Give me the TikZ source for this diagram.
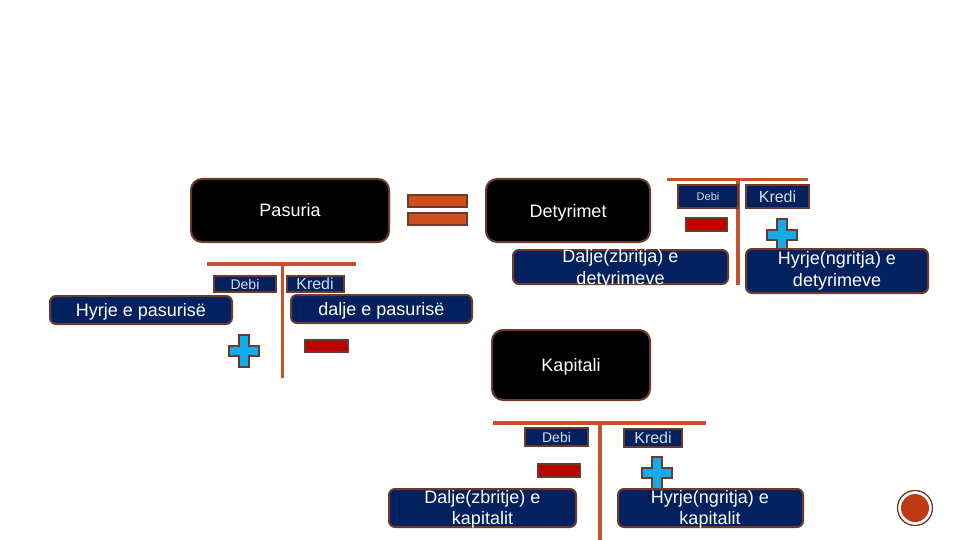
\documentclass[tikz,border=0pt]{standalone}
\usepackage{fontspec}
\setmainfont{Liberation Sans}
\definecolor{rim}{HTML}{6E3A2A}
\definecolor{navy}{HTML}{03215F}
\definecolor{rust}{HTML}{C4522A}
\definecolor{eqfill}{HTML}{CE4E1E}
\definecolor{sky}{HTML}{12ABEB}
\definecolor{crim}{HTML}{BE0000}
\definecolor{thinwhite}{HTML}{D5DCEC}
\definecolor{badge}{HTML}{BE3A14}
\tikzset{
 x=1pt,y=-1pt,
 boxed/.style={draw=rim,line width=2pt,text=white,inner sep=0pt,align=center,font=\fontsize{18}{21.5}\selectfont},
 bigblack/.style={fill=black,rounded corners=11pt},
 bluebox/.style={fill=navy,rounded corners=6pt},
 labelbox/.style={draw=rim,line width=1.8pt,fill=navy,text=thinwhite,inner sep=0pt,font=\fontsize{14}{16}\selectfont},
 bigkredi/.style={labelbox,font=\fontsize{16}{16}\selectfont},
 freetext/.style={text=white,align=center,inner sep=0pt,font=\fontsize{18}{21.5}\selectfont},
 tbar/.style={draw=rust,line width=3.5pt},
 eqbar/.style={draw=rim,line width=1.5pt,fill=eqfill},
 minusbar/.style={draw=rim,line width=1.5pt,fill=crim},
 plusmark/.style={draw=rim,line width=2pt,fill=sky}
}
\newcommand{\plusat}[2]{\draw[plusmark] (#1-5,#2-16) -- (#1+5,#2-16) -- (#1+5,#2-5) -- (#1+15,#2-5) -- (#1+15,#2+5) -- (#1+5,#2+5) -- (#1+5,#2+16) -- (#1-5,#2+16) -- (#1-5,#2+5) -- (#1-15,#2+5) -- (#1-15,#2-5) -- (#1-5,#2-5) -- cycle;}
\begin{document}
\begin{tikzpicture}
\useasboundingbox (0,0) rectangle (960,540);
\fill[white] (0,0) rectangle (960,540);
% black headline boxes
\node[boxed,bigblack,minimum width=198pt,minimum height=63pt] (pasuria) at (290,210.5) {Pasuria};
\node[boxed,bigblack,minimum width=164pt,minimum height=63pt] (detyrimet) at (568,210.5) {\rule{0pt}{17pt}Detyrimet};
\node[boxed,bigblack,minimum width=158pt,minimum height=70pt] (kapitali) at (571,365) {\rule{0pt}{17pt}Kapitali};
% equals
\draw[eqbar] (408,195) rectangle (467,207);
\draw[eqbar] (408,213) rectangle (467,225);
% T accounts
\draw[tbar] (207,264) -- (356,264);
\draw[tbar] (282.5,264) -- (282.5,378);
\draw[tbar] (667,179.5) -- (808,179.5);
\draw[tbar] (738,179.5) -- (738,285);
\draw[tbar] (493,423) -- (706,423);
\draw[tbar] (600,423) -- (600,540);
% plus and minus marks
\plusat{244}{351}
\plusat{782}{235}
\plusat{657}{473}
\draw[minusbar] (305,340) rectangle (348,352);
\draw[minusbar] (686,218) rectangle (727,231);
\draw[minusbar] (538,464) rectangle (580,477);
% Debi / Kredi labels
\node[labelbox,minimum width=62pt,minimum height=16pt] (debiA) at (245,284) {Debi};
\node[bigkredi,minimum width=57pt,minimum height=16pt] (krediA) at (315.5,284) {\hspace*{-1pt}Kredi};
\node[labelbox,minimum width=60pt,minimum height=23pt,font=\fontsize{11}{12}\selectfont] (debiB) at (708,196.5) {Debi};
\node[bigkredi,minimum width=63pt,minimum height=23pt] (krediB) at (777.5,196.5) {Kredi};
\node[labelbox,minimum width=63pt,minimum height=18pt] (debiC) at (556.5,437) {Debi};
\node[bigkredi,minimum width=58pt,minimum height=18pt] (krediC) at (653,438) {Kredi};
% blue text boxes
\node[boxed,bluebox,minimum width=182pt,minimum height=28pt] (hyrjeP) at (141,310) {\rule{0pt}{16pt}Hyrje e pasurisë};
\node[boxed,bluebox,minimum width=181pt,minimum height=28pt] (daljeP) at (381.5,309) {\rule{0pt}{16pt}dalje e pasurisë};
\path[boxed,bluebox] (513,250) rectangle (728,284);
\node[boxed,bluebox,minimum width=182pt,minimum height=44pt] (hyrjeD) at (837,271) {Hyrje(ngritja) e\\detyrimeve};
\path[boxed,bluebox] (389,489) rectangle (576,527);
\path[boxed,bluebox] (618,489) rectangle (803,527);
\node[freetext] (daljeD) at (620.5,269) {Dalje(zbritja) e\\detyrimeve};
\node[freetext] (daljeK) at (482.5,509.5) {Dalje(zbritje) e\\kapitalit};
\node[freetext] (hyrjeK) at (710,509.5) {Hyrje(ngritja) e\\kapitalit};
% page badge
\draw[rim,line width=1.3pt] (915,508) circle (17.5);
\fill[badge] (915,508) circle (14);
\end{tikzpicture}
\end{document}
